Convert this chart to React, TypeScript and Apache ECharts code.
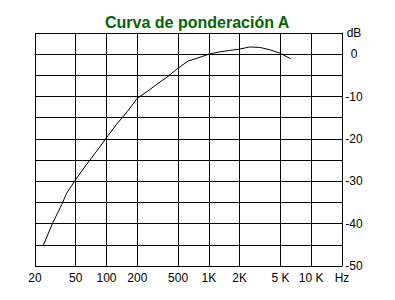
import React, { useEffect, useRef } from "react";
import * as echarts from "echarts";

const freqs = [24, 30, 36.5, 40.8, 50, 63, 80, 100, 125, 160, 200, 250, 315, 400, 500, 630, 800, 1000, 1250, 1600, 2000, 2500, 3150, 4000, 5000, 6300];
const levels = [-45.2, -39.7, -35.5, -32.8, -29.6, -26.2, -22.9, -19.7, -16.6, -13.5, -10.4, -8.8, -7.0, -5.2, -3.3, -1.6, -0.8, 0, 0.5, 0.9, 1.2, 1.7, 1.6, 1.0, 0.2, -1.1];
const xTicks = [20, 50, 100, 200, 500, 1000, 2000, 5000, 10000, 20000];
const xTickLabels = ["20", "50", "100", "200", "500", "1K", "2K", "5 K", "10 K", "Hz"];
const title = "Curva de ponderación A";

export default function App() {
  const ref = useRef<HTMLDivElement>(null);
  useEffect(() => {
    if (!ref.current) return;
    const chart = echarts.init(ref.current, null, { renderer: "svg" });
    const font = "Liberation Sans, Arial, sans-serif";
    chart.setOption({
      animation: false,
      backgroundColor: "#ffffff",
      title: {
        text: title,
        left: 100,
        top: 9,
        textStyle: { color: "#006600", fontSize: 16, fontWeight: "bold", fontFamily: font },
      },
      grid: { left: 35, right: 53, top: 33, bottom: 34 },
      xAxis: {
        type: "log",
        logBase: 10,
        min: 20,
        max: 20000,
        axisLine: { show: true, lineStyle: { color: "#000", width: 1 } },
        axisTick: { show: false, customValues: xTicks },
        splitLine: { show: true, lineStyle: { color: "#000", width: 1 } },
        minorSplitLine: { show: false },
        axisLabel: {
          customValues: xTicks,
          color: "#000",
          fontSize: 12,
          fontFamily: font,
          margin: 6,
          formatter: (v: number) => {
            const i = xTicks.findIndex((t) => Math.abs(t - v) / t < 1e-6);
            return i >= 0 ? xTickLabels[i] : "";
          },
        },
      },
      yAxis: {
        type: "value",
        position: "right",
        min: -50,
        max: 5,
        interval: 5,
        axisLine: { show: true, lineStyle: { color: "#000", width: 1 } },
        axisTick: { show: false },
        splitLine: { show: true, lineStyle: { color: "#000", width: 1 } },
        axisLabel: {
          color: "#000",
          fontSize: 12,
          fontFamily: font,
          margin: 12,
          align: "center",
          formatter: (v: number) => (v === 5 ? "dB" : v % 10 === 0 ? String(v) : ""),
        },
      },
      series: [
        {
          type: "line",
          data: freqs.map((f, i) => [f, levels[i]]),
          smooth: false,
          showSymbol: false,
          lineStyle: { color: "#000", width: 1 },
        },
      ],
    });
    return () => chart.dispose();
  }, []);
  return <div ref={ref} style={{ width: 395, height: 300, position: "absolute", left: 0, top: 0 }} />;
}
